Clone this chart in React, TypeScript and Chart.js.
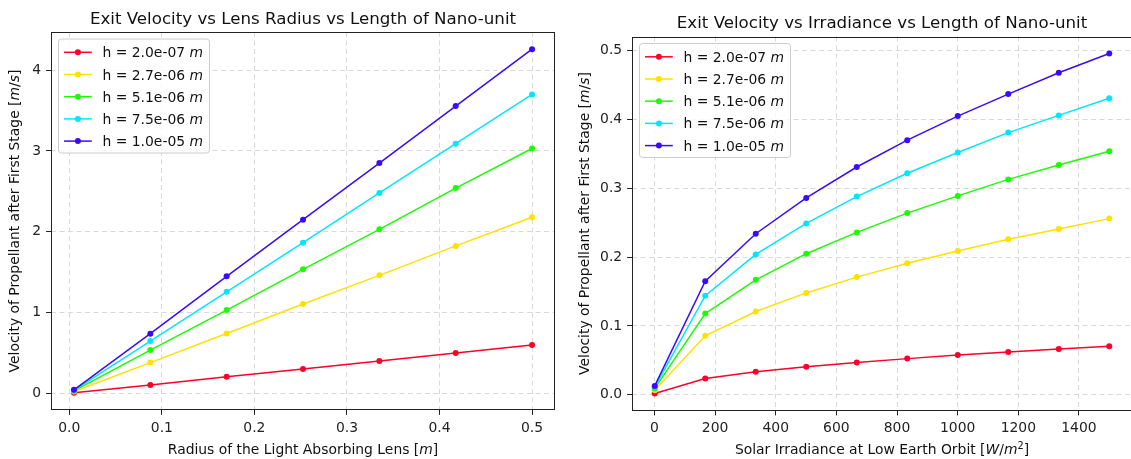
import React, { useEffect, useRef } from 'react';
import { Chart, registerables } from 'chart.js';

Chart.register(...registerables);

const FAMILY = "'DejaVu Sans', 'Liberation Sans', sans-serif";

// ---- data ----
const legendValues = ['2.0e-07', '2.7e-06', '5.1e-06', '7.5e-06', '1.0e-05'];
const seriesColors = ['#ff0029', '#ffe100', '#1aff00', '#00e6ff', '#3a0aff'];

const radiusX = [0.005, 0.0875, 0.17, 0.2525, 0.335, 0.4175, 0.5];
const radiusH1 = [0.006, 0.103, 0.204, 0.302, 0.401, 0.499, 0.598];
const radiusH2 = [0.022, 0.38, 0.74, 1.105, 1.46, 1.825, 2.18];
const radiusH3 = [0.03, 0.535, 1.03, 1.535, 2.03, 2.54, 3.03];
const radiusH4 = [0.037, 0.647, 1.257, 1.865, 2.48, 3.09, 3.70];
const radiusH5 = [0.043, 0.738, 1.448, 2.15, 2.85, 3.556, 4.26];

const irradianceX = [1, 167.56, 334.11, 500.67, 667.22, 833.78, 1000.33, 1166.89, 1333.44, 1500];
const irrH1 = [0.0018, 0.0235, 0.0333, 0.0407, 0.047, 0.0525, 0.0576, 0.0622, 0.0665, 0.0704];
const irrH2 = [0.0066, 0.0856, 0.121, 0.148, 0.171, 0.191, 0.209, 0.226, 0.241, 0.256];
const irrH3 = [0.0092, 0.118, 0.167, 0.205, 0.236, 0.264, 0.289, 0.313, 0.334, 0.354];
const irrH4 = [0.0111, 0.144, 0.204, 0.249, 0.288, 0.322, 0.352, 0.381, 0.406, 0.431];
const irrH5 = [0.0128, 0.165, 0.234, 0.286, 0.331, 0.370, 0.405, 0.437, 0.468, 0.496];

const radiusTicksX = [0, 0.1, 0.2, 0.3, 0.4, 0.5];
const radiusTicksY = [0, 1, 2, 3, 4];
const irrTicksX = [0, 200, 400, 600, 800, 1000, 1200, 1400];
const irrTicksY = [0, 0.1, 0.2, 0.3, 0.4, 0.5];

type Part = { t: string; it?: boolean; sup?: boolean };

function fontFor(p: Part, size: number) {
  const s = p.sup ? size * 0.7 : size;
  return `${p.it ? 'italic ' : ''}${s}px ${FAMILY}`;
}

function drawRich(ctx: CanvasRenderingContext2D, parts: Part[], x: number, y: number, size: number, align: 'center' | 'left') {
  let total = 0;
  const widths = parts.map((p) => {
    ctx.font = fontFor(p, size);
    const w = ctx.measureText(p.t).width;
    total += w;
    return w;
  });
  let cx = align === 'center' ? x - total / 2 : x;
  ctx.textAlign = 'left';
  ctx.textBaseline = 'alphabetic';
  parts.forEach((p, i) => {
    ctx.font = fontFor(p, size);
    ctx.fillText(p.t, cx, p.sup ? y - size * 0.38 : y);
    cx += widths[i];
  });
}

type Decor = {
  id: string;
  title: string;
  xlabel: Part[];
  ylabel: Part[];
  ylabelX: number;
  xlabelY: number;
};

function makeDecor(d: Decor) {
  return {
    id: d.id,
    afterDraw(chart: any) {
      const ctx: CanvasRenderingContext2D = chart.ctx;
      const ca = chart.chartArea;
      ctx.save();
      // frame
      ctx.strokeStyle = '#222';
      ctx.lineWidth = 1;
      const l = Math.round(ca.left) + 0.5;
      const t = Math.round(ca.top) + 0.5;
      const r = Math.round(ca.right) - 0.5;
      const b = Math.round(ca.bottom) - 0.5;
      ctx.strokeRect(l, t, r - l, b - t);

      // legend
      const lx = ca.left + 7.5;
      const ly = ca.top + 7;
      const lw = 151;
      const lh = 114;
      ctx.beginPath();
      const rad = 3;
      ctx.moveTo(lx + rad, ly);
      ctx.arcTo(lx + lw, ly, lx + lw, ly + lh, rad);
      ctx.arcTo(lx + lw, ly + lh, lx, ly + lh, rad);
      ctx.arcTo(lx, ly + lh, lx, ly, rad);
      ctx.arcTo(lx, ly, lx + lw, ly, rad);
      ctx.closePath();
      ctx.fillStyle = 'rgba(255,255,255,0.8)';
      ctx.fill();
      ctx.strokeStyle = '#cccccc';
      ctx.lineWidth = 1;
      ctx.stroke();
      legendValues.forEach((v, i) => {
        const yy = ly + 13.3 + i * 22.2;
        ctx.strokeStyle = seriesColors[i];
        ctx.lineWidth = 1.5;
        ctx.beginPath();
        ctx.moveTo(lx + 5.5, yy);
        ctx.lineTo(lx + 33.3, yy);
        ctx.stroke();
        ctx.fillStyle = seriesColors[i];
        ctx.beginPath();
        ctx.arc(lx + 19.4, yy, 3, 0, Math.PI * 2);
        ctx.fill();
        ctx.fillStyle = '#111';
        drawRich(ctx, [{ t: `h = ${v} ` }, { t: 'm', it: true }], lx + 44, yy + 5, 13.9, 'left');
      });

      // title
      ctx.fillStyle = '#111';
      ctx.font = `16.67px ${FAMILY}`;
      ctx.textAlign = 'center';
      ctx.textBaseline = 'alphabetic';
      ctx.fillText(d.title, (ca.left + ca.right) / 2, ca.top - 8.3);

      // x label
      const cxMid = (ca.left + Math.min(ca.right, chart.width)) / 2;
      drawRich(ctx, d.xlabel, (ca.left + ca.right) / 2, d.xlabelY, 13.9, 'center');

      // y label
      ctx.save();
      ctx.translate(d.ylabelX, (ca.top + ca.bottom) / 2);
      ctx.rotate(-Math.PI / 2);
      drawRich(ctx, d.ylabel, 0, 0, 13.9, 'center');
      ctx.restore();
      void cxMid;
      ctx.restore();
    },
  };
}

function makeDatasets(xs: number[], ys: number[][]) {
  return ys.map((s, i) => ({
    label: `h = ${legendValues[i]} m`,
    data: xs.map((x, j) => ({ x, y: s[j] })),
    borderColor: seriesColors[i],
    backgroundColor: seriesColors[i],
    pointBackgroundColor: seriesColors[i],
    pointBorderWidth: 0,
    pointRadius: 3,
    borderWidth: 1.5,
    tension: 0,
    fill: false,
    order: ys.length - i,
  }));
}

const GRID = '#d9d9d9';

function axis(min: number, max: number, ticks: number[], fmt: (v: number) => string, fit: (s: any) => void) {
  return {
    type: 'linear' as const,
    min,
    max,
    afterFit: fit,
    afterBuildTicks: (s: any) => {
      s.ticks = ticks.map((v) => ({ value: v }));
    },
    ticks: {
      callback: (v: any) => fmt(Number(v)),
      font: { family: FAMILY, size: 13.9 },
      color: '#222',
      padding: 4.9,
      maxRotation: 0,
      autoSkip: false,
      includeBounds: false,
    },
    grid: {
      color: GRID,
      lineWidth: 1,
      tickLength: 4.9,
      tickColor: '#222',
      tickWidth: 1,
    },
    border: { display: false, dash: [5, 3.5] },
  };
}

function ChartBox(props: { cfg: any; width: number; height: number; left: number }) {
  const ref = useRef<HTMLCanvasElement | null>(null);
  useEffect(() => {
    if (!ref.current) return;
    const c = new Chart(ref.current, props.cfg);
    return () => c.destroy();
  }, []);
  return (
    <div style={{ position: 'absolute', left: props.left, top: 0, width: props.width, height: props.height }}>
      <canvas ref={ref} width={props.width} height={props.height} style={{ display: 'block' }} />
    </div>
  );
}

export default function App() {
  const leftCfg = {
    type: 'line',
    data: { datasets: makeDatasets(radiusX, [radiusH1, radiusH2, radiusH3, radiusH4, radiusH5]) },
    options: {
      animation: false,
      responsive: false,
      layout: { padding: { top: 32, right: 10, left: 0, bottom: 0 } },
      plugins: { legend: { display: false }, title: { display: false }, tooltip: { enabled: false } },
      scales: {
        x: axis(-0.0198, 0.5248, radiusTicksX, (v) => v.toFixed(1), (s: any) => { s.height = 49; }),
        y: axis(-0.2067, 4.4727, radiusTicksY, (v) => String(Math.round(v)), (s: any) => { s.width = 51; }),
      },
    },
    plugins: [
      makeDecor({
        id: 'decorLeft',
        title: 'Exit Velocity vs Lens Radius vs Length of Nano-unit',
        xlabel: [{ t: 'Radius of the Light Absorbing Lens [' }, { t: 'm', it: true }, { t: ']' }],
        ylabel: [{ t: 'Velocity of Propellant after First Stage [' }, { t: 'm', it: true }, { t: '/' }, { t: 's', it: true }, { t: ']' }],
        ylabelX: 19,
        xlabelY: 453.5,
      }),
    ],
  };

  const rightCfg = {
    type: 'line',
    data: { datasets: makeDatasets(irradianceX, [irrH1, irrH2, irrH3, irrH4, irrH5]) },
    options: {
      animation: false,
      responsive: false,
      layout: { padding: { top: 36.5, right: 5, left: 0, bottom: 0 } },
      plugins: { legend: { display: false }, title: { display: false }, tooltip: { enabled: false } },
      scales: {
        x: axis(-73.95, 1574.95, irrTicksX, (v) => String(Math.round(v)), (s: any) => { s.height = 48.5; }),
        y: axis(-0.0229, 0.5207, irrTicksY, (v) => v.toFixed(1), (s: any) => { s.width = 67; }),
      },
    },
    plugins: [
      makeDecor({
        id: 'decorRight',
        title: 'Exit Velocity vs Irradiance vs Length of Nano-unit',
        xlabel: [{ t: 'Solar Irradiance at Low Earth Orbit [' }, { t: 'W', it: true }, { t: '/' }, { t: 'm', it: true }, { t: '2', sup: true }, { t: ']' }],
        ylabel: [{ t: 'Velocity of Propellant after First Stage [' }, { t: 'm', it: true }, { t: '/' }, { t: 's', it: true }, { t: ']' }],
        ylabelX: 24,
        xlabelY: 454,
      }),
    ],
  };

  return (
    <div style={{ position: 'fixed', left: 0, top: 0, width: 1131, height: 459, overflow: 'hidden', background: '#fff' }}>
      <ChartBox cfg={leftCfg} width={565} height={459} left={0} />
      <ChartBox cfg={rightCfg} width={572} height={459} left={565} />
    </div>
  );
}
